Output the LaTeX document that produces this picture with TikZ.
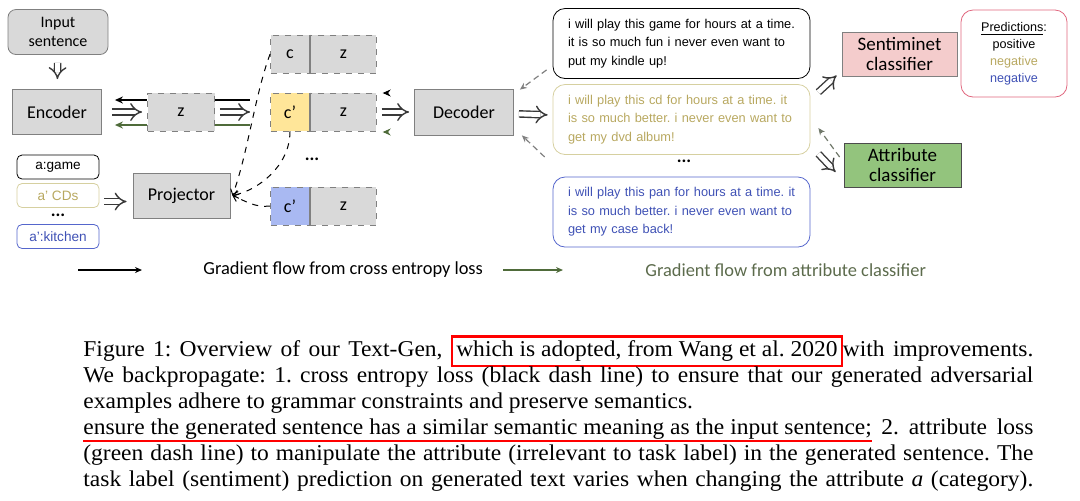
\documentclass[tikz,border=0pt]{standalone}
\usepackage{fontspec}
\setmainfont{Liberation Serif}
\newfontfamily\carlito{Carlito}
\newfontfamily\arial{Liberation Sans}
\newfontfamily\capfont[FakeStretch=1.04]{Liberation Serif}
\usepackage{xcolor}
\usetikzlibrary{arrows.meta, positioning, calc}

\definecolor{boxgray}{HTML}{D9D9D9}
\definecolor{edgegray}{HTML}{808080}
\definecolor{cyellow}{HTML}{FFE699}
\definecolor{cblue}{HTML}{A9B9F2}
\definecolor{sentired}{HTML}{F4CCCC}
\definecolor{attrgreen}{HTML}{93C47D}
\definecolor{predred}{HTML}{E0667E}
\definecolor{olivetext}{HTML}{B8A860}
\definecolor{oliveedge}{HTML}{D6D0A0}
\definecolor{bluetext}{HTML}{3F51B5}
\definecolor{blueedge}{HTML}{5566CC}
\definecolor{gradgreen}{HTML}{4F6B3A}
\definecolor{legendgreen}{HTML}{5C6B4C}

\newlength{\capw}
\setlength{\capw}{475pt}
\newcommand{\redbox}[1]{{\setlength{\fboxsep}{1.5pt}\setlength{\fboxrule}{1.2pt}\fcolorbox{red}{white}{#1}}}
\newcommand{\redline}[1]{\begingroup\sbox0{#1}\rlap{\textcolor{red}{\rule[-3.8pt]{\wd0}{1pt}}}\usebox0\endgroup}

\begin{document}
\frenchspacing
\begin{tikzpicture}[x=0.5pt, y=-0.5pt,
    blk/.style={draw=edgegray, fill=boxgray, inner sep=0pt, align=center,
      font=\carlito\fontsize{9}{10}\selectfont},
    cell/.style={draw=edgegray, dashed, fill=boxgray, minimum height=19pt, inner sep=0pt,
      font=\carlito\fontsize{9}{10}\selectfont},
    tag/.style={draw, rounded corners=2.5pt, minimum width=41pt, minimum height=12pt, inner sep=0pt,
      font=\arial\fontsize{6.8}{7}\selectfont},
    sent/.style={draw, rounded corners=6pt, minimum width=128.5pt, minimum height=35pt,
      text width=113.5pt, align=left, inner sep=0pt, font=\arial\fontsize{6.4}{9.2}\selectfont},
    wide/.style={draw=gray!45!black, line width=0.7pt, double=white, double distance=2.4pt, -{Implies}},
    blkflow/.style={line width=0.9pt, black},
    grnflow/.style={line width=0.9pt, gradgreen},
    back/.style={dashed, line width=0.5pt, -{Straight Barb[length=2.5pt, width=4pt]}},
    fb/.style={densely dashed, line width=0.6pt, gray, -{Stealth[length=3.5pt, width=3pt]}},
    dots/.style={font=\carlito\bfseries\fontsize{9}{10}\selectfont}]
  % canvas
  \useasboundingbox (0,0) rectangle (1080,500);

  % encoder side
  \node[blk, rounded corners=4pt, minimum width=50pt, minimum height=22.5pt,
    font=\carlito\fontsize{8}{9.5}\selectfont] (inp) at (58,32) {Input\\sentence};
  \node[blk, minimum width=44.5pt, minimum height=22.5pt] (enc) at (57,112) {Encoder};
  \node[cell, minimum width=33.5pt] (z0) at (181,112) {z};
  \draw[wide, shorten <=4pt, shorten >=5pt] (inp) -- (enc);

  % attribute tags and projector
  \node[tag] (agame) at (58,167) {a:game};
  \node[tag, draw=oliveedge, text=olivetext] (acds) at (58,195.5) {a’ CDs};
  \node[dots] (adots) at (58,215) {...};
  \node[tag, draw=blueedge, text=bluetext] (akit) at (58,236.5) {a’:kitchen};
  \node[blk, minimum width=48.5pt, minimum height=22.5pt] (proj) at (181.5,195.5) {Projector};
  \draw[wide, shorten <=2.5pt, shorten >=3pt] ([yshift=-3pt]acds.east) -- ([yshift=-3pt]proj.west);

  % c z cells
  \node[cell, minimum width=19.5pt] (c1) at (290,54) {c};
  \node[cell, minimum width=33pt, right=0pt of c1] (z1) {z};
  \node[cell, fill=cyellow, minimum width=19.5pt] (c2) at (290,112) {c’};
  \node[cell, minimum width=33pt, right=0pt of c2] (z2) {z};
  \node[dots] (cdots) at (312,159) {...};
  \node[cell, fill=cblue, minimum width=19.5pt] (c3) at (290,206) {c’};
  \node[cell, minimum width=33pt, right=0pt of c3] (z3) {z};
  \foreach \i in {1,2,3} {
    \draw[edgegray, line width=0.6pt] (c\i.north east) -- (c\i.south east);
  }

  % flow between encoder, z and cells
  \draw[blkflow, -{Stealth[length=4pt, width=3.5pt]}, shorten >=6.5pt] ([yshift=6pt]z0.west) -- ([yshift=6pt]enc.east);
  \draw[wide, shorten <=5pt, shorten >=2.5pt] (enc) -- (z0);
  \draw[grnflow, -{Stealth[length=4pt, width=3.5pt]}, shorten >=6.5pt] ([yshift=-6.5pt]z0.west) -- ([yshift=-6.5pt]enc.east);
  \draw[blkflow, shorten >=10pt] ([yshift=6pt]z0.east) -- ([yshift=6pt]c2.west);
  \draw[wide, shorten <=2.5pt, shorten >=10pt] (z0) -- (c2);
  \draw[grnflow, shorten >=10pt] ([yshift=-6.5pt]z0.east) -- ([yshift=-6.5pt]c2.west);

  % back to projector
  \draw[back] (c1.west) .. controls +(-15,40) and +(15,-40) .. ([xshift=1pt]proj.east);
  \draw[back] (c2.south) .. controls +(0,35) and +(25,-5) .. ([xshift=1pt]proj.east);
  \draw[back] (c3.west) .. controls +(-15,2) and +(12,5) .. ([xshift=1pt]proj.east);

  % decoder
  \node[blk, minimum width=49.5pt, minimum height=23pt] (dec) at (464,112) {Decoder};
  \draw[wide, shorten <=2.5pt, shorten >=2.5pt] (z2) -- (dec);
  \draw[black, -{Stealth[length=4pt, width=3.5pt]}] ([shift={(3.5pt,9.5pt)}]z2.east) -- ++(-1,0);
  \draw[gradgreen, line width=0.5pt, -{Stealth[length=4pt, width=3.5pt]}] ([shift={(3.5pt,-10pt)}]z2.east) -- ++(-1,0);

  % generated sentences
  \node[sent] (s1) at (681.5,43.5) {i will play this game for hours at a time.\\
    it is so much fun i never even want to\\ put my kindle up!};
  \node[sent, draw=oliveedge, text=olivetext] (s2) at (681.5,119.5) {i will play this cd for hours at a time. it\\
    is so much better. i never even want to\\ get my dvd album!};
  \node[dots] (sdots) at (684,161) {...};
  \node[sent, draw=blueedge, text=bluetext] (s3) at (681.5,212) {i will play this pan for hours at a time. it\\
    is so much better. i never even want to\\ get my case back!};
  \draw[wide, shorten <=2.5pt, shorten >=2.5pt] (dec) -- (s2);
  \draw[fb] ([shift={(-3pt,4.5pt)}]s1.south west) -- ([shift={(3pt,-0.5pt)}]dec.north east);
  \draw[fb] ([shift={(-4pt,-1pt)}]s2.south west) -- ([shift={(4pt,0pt)}]dec.south east);

  % classifiers
  \node[blk, fill=sentired, minimum width=57.5pt, minimum height=22pt,
    font=\carlito\fontsize{9.5}{10}\selectfont] (senti) at (899.5,54) {Sentiminet\\classifier};
  \node[blk, fill=attrgreen, draw=gray!60!black, minimum width=58.5pt, minimum height=22pt,
    font=\carlito\fontsize{9.5}{10}\selectfont] (attr) at (902.5,165) {Attribute\\classifier};
  \node[draw=predred, rounded corners=6pt, minimum width=53pt, minimum height=43.5pt, inner sep=0pt,
    align=center, font=\arial\fontsize{6.3}{8.5}\selectfont] (pred) at (1014,53.5)
    {\underline{Predictions}:\\ positive\\ \textcolor{olivetext}{negative}\\ \textcolor{bluetext}{negative}};
  \draw[wide] ([shift={(4pt,-4pt)}]s2.north east) -- ([shift={(-2.5pt,0.5pt)}]senti.south west);
  \draw[wide] ([shift={(4pt,0.5pt)}]s2.south east) -- ([shift={(-4pt,-3.5pt)}]attr.west);
  \draw[fb, gray!70!gradgreen] ([shift={(-2pt,4pt)}]attr.west) -- ([shift={(4pt,-4.25pt)}]s2.east);

  % legend
  \coordinate (lb1) at (78,270);
  \coordinate (lb2) at (142,270);
  \coordinate (lg1) at (503,270);
  \coordinate (lg2) at (563,270);
  \draw[black, line width=0.6pt, -{Stealth[length=3.5pt, width=3pt]}] (lb1) -- (lb2);
  \draw[gradgreen, line width=0.6pt, -{Stealth[length=3.5pt, width=3pt]}] (lg1) -- (lg2);
  \node[anchor=west, inner sep=0pt, font=\carlito\fontsize{9.2}{10}\selectfont] (lbtext) at (203,270)
    {Gradient flow from cross entropy loss};
  \node[anchor=west, inner sep=0pt, text=legendgreen, font=\carlito\fontsize{9.2}{10}\selectfont] (lgtext) at (645,270)
    {Gradient flow from attribute classifier};

  % caption
  \node[anchor=north west, inner sep=0pt, align=left, font=\capfont\fontsize{11.3}{13}\selectfont] (caption) at (83,335)
    {\hbox to\capw{\strut Figure 1: Overview of our Text-Gen, \redbox{which is adopted, from Wang et al. 2020}with improvements.}\\
     \hbox to\capw{We backpropagate: 1. cross entropy loss (black dash line) to ensure that our generated adversarial}\\
     \hbox to\capw{examples adhere to grammar constraints and preserve semantics.\hfil}\\
     \hbox to\capw{\redline{ensure the generated sentence has a similar semantic meaning as the input sentence;} 2. attribute loss}\\
     \hbox to\capw{(green dash line) to manipulate the attribute (irrelevant to task label) in the generated sentence. The}\\
     \hbox to\capw{task label (sentiment) prediction on generated text varies when changing the attribute \textit{a} (category).}};
\end{tikzpicture}
\end{document}
